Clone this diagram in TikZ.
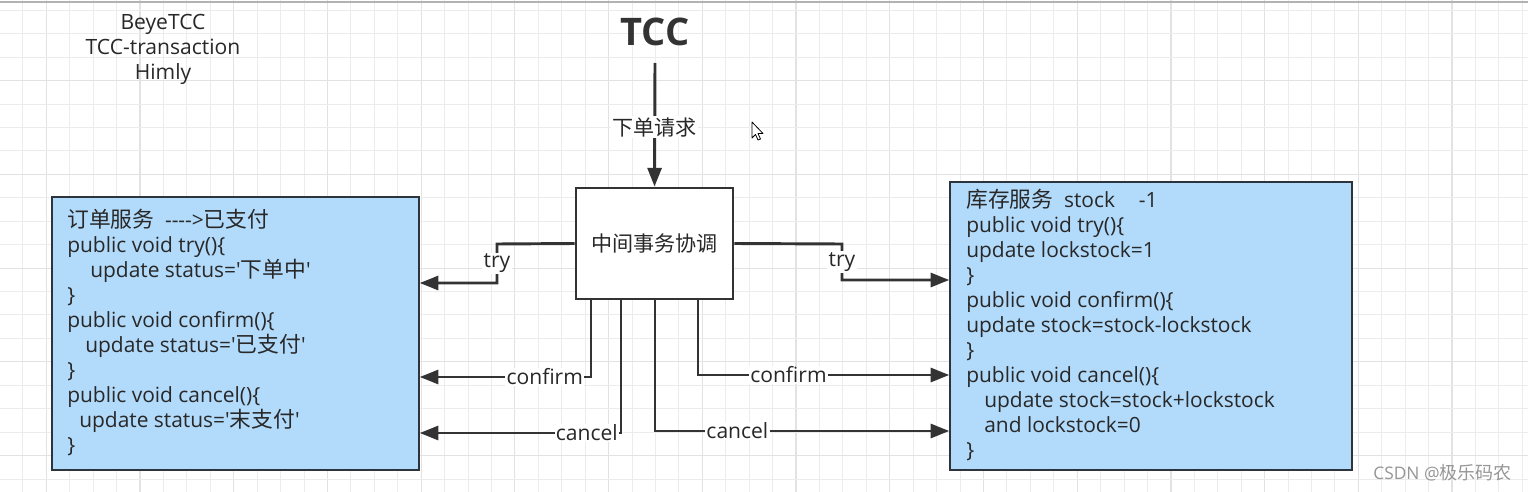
\documentclass[tikz,border=0pt]{standalone}
\usepackage{fontspec}
\setmainfont{Open Sans}[Ligatures=TeXOff]
\newfontfamily\cjk[Scale=1.04]{Noto Sans CJK SC}
\usetikzlibrary{arrows.meta}
\definecolor{gridminor}{RGB}{236,236,236}
\definecolor{gridmajor}{RGB}{226,226,226}
\definecolor{boxblue}{RGB}{178,218,250}
\definecolor{boxline}{RGB}{45,52,60}
\definecolor{linec}{RGB}{51,51,51}
\definecolor{txt}{RGB}{40,40,40}
\definecolor{wm}{RGB}{150,150,150}
\tikzset{
  svcbox/.style={draw=boxline, line width=1.1pt, fill=boxblue, inner sep=0pt},
  coordbox/.style={draw=linec, line width=2.2pt, fill=white, inner sep=0pt,
     minimum width=117.75pt, minimum height=83.25pt, text=txt,
     font=\cjk\fontsize{15.2pt}{18pt}\selectfont},
  flow/.style={draw=linec, line width=2.2pt, -{Triangle[length=14pt,width=10.5pt]}},
  lbl/.style={fill=white, inner sep=1pt, text=txt, font=\fontsize{15.8pt}{18pt}\selectfont},
  codeline/.style={anchor=west, inner sep=0pt, text=txt, text height=11pt, text depth=3pt,
     font=\fontsize{15.7pt}{18pt}\selectfont},
  toptext/.style={inner sep=0pt, text=txt, text height=11pt, text depth=3pt, font=\fontsize{15.8pt}{18pt}\selectfont},
}
\begin{document}
\begin{tikzpicture}[x=0.75pt,y=-0.75pt]
\useasboundingbox (0,0) rectangle (1528,492);
\fill[white] (0,0) rectangle (1528,492);
% grid
\foreach \i in {-6,...,59} {
  \pgfmathtruncatemacro{\m}{mod(\i+100,4)}
  \ifnum\m=0 \draw[gridmajor, line width=0.9pt] ({140+23.43*\i},0) -- ({140+23.43*\i},492);
  \else \draw[gridminor, line width=0.75pt] ({140+23.43*\i},0) -- ({140+23.43*\i},492); \fi
}
\foreach \j in {0,...,20} {
  \pgfmathtruncatemacro{\m}{mod(\j+1,4)}
  \ifnum\m=0 \draw[gridmajor, line width=0.9pt] (0,{10.4+23.43*\j}) -- (1528,{10.4+23.43*\j});
  \else \draw[gridminor, line width=0.75pt] (0,{10.4+23.43*\j}) -- (1528,{10.4+23.43*\j}); \fi
}
\draw[gray!60, line width=1pt] (0,2) -- (1528,2);

% top-left texts
\node[toptext] (t1) at (163,24) {BeyeTCC};
\node[toptext] (t2) at (163,49) {TCC-transaction};
\node[toptext] (t3) at (163,74) {Himly};

% title
\node[inner sep=0pt, text=linec, font=\bfseries\fontsize{28.5pt}{30pt}\selectfont] (tcc) at (655,32) {TCC};

% boxes
\node[coordbox] (coord) at (654.5,243.5) {中间事务协调};
\node[svcbox, minimum width=275.25pt, minimum height=204.75pt] (order) at (235.5,333.5) {};
\node[svcbox, minimum width=301.5pt, minimum height=216pt] (stock) at (1151,326) {};

% order service text
\node[codeline] (o1) at (67,222) {{\cjk 订单服务}\hspace{8pt}---->{\cjk 已支付}};
\node[codeline] (o2) at (67,247) {public void try()\{};
\node[codeline] (o3) at (90,272) {update status='{\cjk 下单中}'};
\node[codeline] (o4) at (67,297) {\}};
\node[codeline] (o5) at (67,322) {public void confirm()\{};
\node[codeline] (o6) at (85,347) {update status='{\cjk 已支付}'};
\node[codeline] (o7) at (67,372) {\}};
\node[codeline] (o8) at (67,397) {public void cancel()\{};
\node[codeline] (o9) at (79,422) {update status='{\cjk 末支付}'};
\node[codeline] (o10) at (67,447) {\}};

% stock service text
\node[codeline] (s1) at (966,202) {{\cjk 库存服务}\hspace{8pt}stock\hspace{18pt}-1};
\node[codeline] (s2) at (966,227) {public void try()\{};
\node[codeline] (s3) at (966,252) {update lockstock=1};
\node[codeline] (s4) at (966,277) {\}};
\node[codeline] (s5) at (966,302) {public void confirm()\{};
\node[codeline] (s6) at (966,327) {update stock=stock-lockstock};
\node[codeline] (s7) at (966,352) {\}};
\node[codeline] (s8) at (966,377) {public void cancel()\{};
\node[codeline] (s9) at (984,402) {update stock=stock+lockstock};
\node[codeline] (s10) at (984,427) {and lockstock=0};
\node[codeline] (s11) at (966,452) {\}};

% connectors
\coordinate (req) at (655,63);
\draw[flow] (req) -- node[lbl, font=\cjk\fontsize{15.2pt}{18pt}\selectfont, pos=0.52]{下单请求} (coord.north);

\draw[flow] (coord.west) -- (497,244) -- node[lbl]{try} (497,283) -- (order.east |- 497,283);
\draw[flow] (coord.east) -- (842,244) -- node[lbl]{try} (842,280) -- (stock.west |- 842,280);

\draw[flow] (coord.south -| 591,0) -- (591,377) -- node[lbl, pos=0.27]{confirm} (order.east |- 591,377);
\draw[flow] (coord.south -| 621,0) -- (621,433) -- node[lbl, pos=0.17]{cancel} (order.east |- 621,433);
\draw[flow] (coord.south -| 655,0) -- (655,431) -- node[lbl, pos=0.28]{cancel} (stock.west |- 655,431);
\draw[flow] (coord.south -| 698,0) -- (698,375) -- node[lbl, pos=0.36]{confirm} (stock.west |- 698,375);

% mouse cursor
\draw[black, fill=white, line width=0.6pt, line join=round]
  (752,122) -- (752,138) -- (755.5,134.5) -- (758,140) -- (760.5,139) -- (758,133.5) -- (763,133.5) -- cycle;

% watermark
\node[inner sep=0pt, anchor=east, text=wm, font=\fontsize{13pt}{15pt}\selectfont] (wmk) at (1512,473) {CSDN @{\cjk 极乐码农}};
\end{tikzpicture}
\end{document}
